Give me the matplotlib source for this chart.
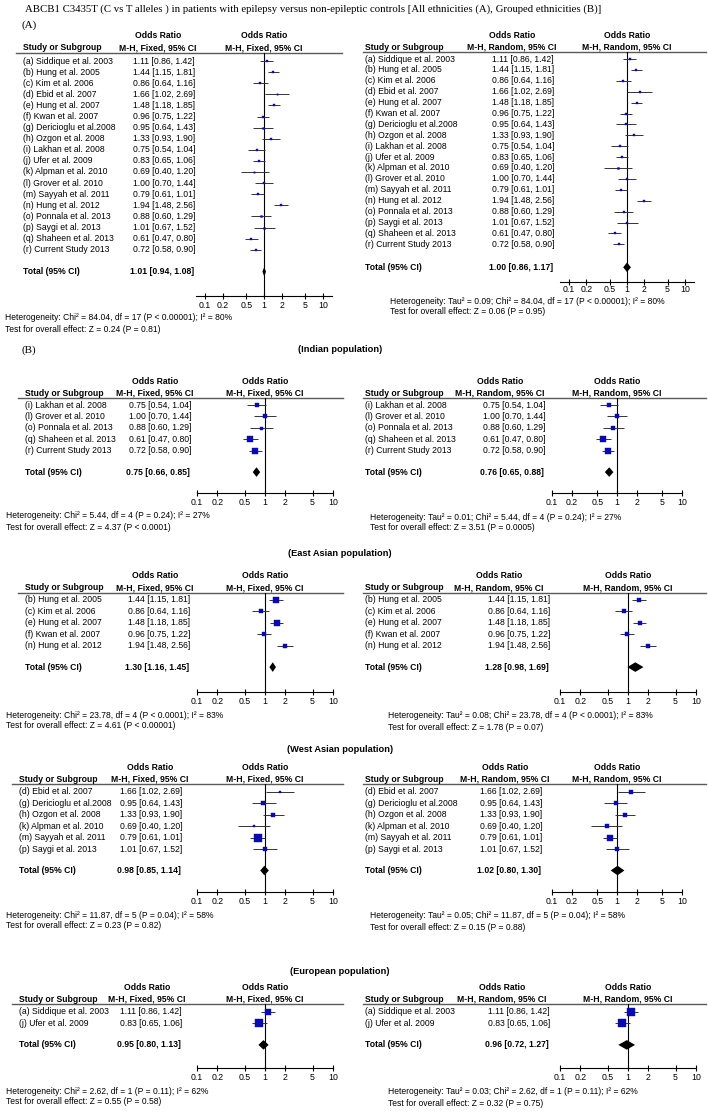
import matplotlib
matplotlib.use("Agg")
import matplotlib.pyplot as plt
import numpy as np

W, H = 708, 1112
SANS = "Liberation Sans"
SERIF = "Liberation Serif"
BLUE = "#0a0ab4"

# ---------------- data ----------------
studies = ["(a) Siddique et al. 2003", "(b) Hung et al. 2005", "(c) Kim et al. 2006",
           "(d) Ebid et al. 2007", "(e) Hung et al. 2007", "(f) Kwan et al. 2007",
           "(g) Dericioglu et al.2008", "(h) Ozgon et al. 2008", "(i) Lakhan et al. 2008",
           "(j) Ufer et al. 2009", "(k) Alpman et al. 2010", "(l) Grover et al. 2010",
           "(m) Sayyah et al. 2011", "(n) Hung et al. 2012", "(o) Ponnala et al. 2013",
           "(p) Saygi et al. 2013", "(q) Shaheen et al. 2013", "(r) Current Study 2013"]
odds = [1.11, 1.44, 0.86, 1.66, 1.48, 0.96, 0.95, 1.33, 0.75, 0.83, 0.69, 1.00, 0.79, 1.94, 0.88, 1.01, 0.61, 0.72]
ci_lo = [0.86, 1.15, 0.64, 1.02, 1.18, 0.75, 0.64, 0.93, 0.54, 0.65, 0.40, 0.70, 0.61, 1.48, 0.60, 0.67, 0.47, 0.58]
ci_hi = [1.42, 1.81, 1.16, 2.69, 1.85, 1.22, 1.43, 1.90, 1.04, 1.06, 1.20, 1.44, 1.01, 2.56, 1.29, 1.52, 0.80, 0.90]

# subgroup membership (indices into studies)
idx_all = list(range(18))
idx_indian = [8, 11, 14, 16, 17]
idx_east = [1, 2, 4, 5, 13]
idx_west = [3, 6, 7, 10, 12, 15]
idx_euro = [0, 9]

# approximate weights (%) read from square sizes
w_all_fixed = [6.5, 8.0, 5.5, 1.8, 7.5, 7.0, 3.5, 4.0, 4.5, 7.0, 2.0, 4.0, 8.0, 5.0, 3.5, 3.5, 6.0, 8.5]
w_all_rand = [6.0, 6.3, 5.6, 4.0, 6.3, 6.2, 5.0, 5.2, 5.5, 6.0, 3.8, 5.2, 6.3, 5.6, 5.0, 5.0, 5.8, 6.4]
w_indian_fixed = [14, 12, 9, 28, 37]
w_indian_rand = [15, 12, 10, 27, 36]
w_east_fixed = [26, 15, 27, 21, 11]
w_east_rand = [21, 18, 21, 20, 19]
w_west_fixed = [5, 11, 12, 7, 52, 12]
w_west_rand = [11, 16, 17, 12, 27, 17]
w_euro_fixed = [45, 55]
w_euro_rand = [50, 50]

# pooled estimates (OR, lo, hi)
tot_all_fixed = (1.01, 0.94, 1.08)
tot_all_rand = (1.00, 0.86, 1.17)
tot_indian_fixed = (0.75, 0.66, 0.85)
tot_indian_rand = (0.76, 0.65, 0.88)
tot_east_fixed = (1.30, 1.16, 1.45)
tot_east_rand = (1.28, 0.98, 1.69)
tot_west_fixed = (0.98, 0.85, 1.14)
tot_west_rand = (1.02, 0.80, 1.30)
tot_euro_fixed = (0.95, 0.80, 1.13)
tot_euro_rand = (0.96, 0.72, 1.27)

het_all_fixed = ["Heterogeneity: Chi\u00b2 = 84.04, df = 17 (P < 0.00001); I\u00b2 = 80%",
                 "Test for overall effect: Z = 0.24 (P = 0.81)"]
het_all_rand = ["Heterogeneity: Tau\u00b2 = 0.09; Chi\u00b2 = 84.04, df = 17 (P < 0.00001); I\u00b2 = 80%",
                "Test for overall effect: Z = 0.06 (P = 0.95)"]
het_indian_fixed = ["Heterogeneity: Chi\u00b2 = 5.44, df = 4 (P = 0.24); I\u00b2 = 27%",
                    "Test for overall effect: Z = 4.37 (P < 0.0001)"]
het_indian_rand = ["Heterogeneity: Tau\u00b2 = 0.01; Chi\u00b2 = 5.44, df = 4 (P = 0.24); I\u00b2 = 27%",
                   "Test for overall effect: Z = 3.51 (P = 0.0005)"]
het_east_fixed = ["Heterogeneity: Chi\u00b2 = 23.78, df = 4 (P < 0.0001); I\u00b2 = 83%",
                  "Test for overall effect: Z = 4.61 (P < 0.00001)"]
het_east_rand = ["Heterogeneity: Tau\u00b2 = 0.08; Chi\u00b2 = 23.78, df = 4 (P < 0.0001); I\u00b2 = 83%",
                 "Test for overall effect: Z = 1.78 (P = 0.07)"]
het_west_fixed = ["Heterogeneity: Chi\u00b2 = 11.87, df = 5 (P = 0.04); I\u00b2 = 58%",
                  "Test for overall effect: Z = 0.23 (P = 0.82)"]
het_west_rand = ["Heterogeneity: Tau\u00b2 = 0.05; Chi\u00b2 = 11.87, df = 5 (P = 0.04); I\u00b2 = 58%",
                 "Test for overall effect: Z = 0.15 (P = 0.88)"]
het_euro_fixed = ["Heterogeneity: Chi\u00b2 = 2.62, df = 1 (P = 0.11); I\u00b2 = 62%",
                  "Test for overall effect: Z = 0.55 (P = 0.58)"]
het_euro_rand = ["Heterogeneity: Tau\u00b2 = 0.03; Chi\u00b2 = 2.62, df = 1 (P = 0.11); I\u00b2 = 62%",
                 "Test for overall effect: Z = 0.32 (P = 0.75)"]

tick_vals = [0.1, 0.2, 0.5, 1, 2, 5, 10]
tick_labs = ["0.1", "0.2", "0.5", "1", "2", "5", "10"]

fig = plt.figure(figsize=(W / 100, H / 100), dpi=100)
fig.patch.set_facecolor("white")
ov = fig.add_axes([0, 0, 1, 1])
ov.set_xlim(0, W)
ov.set_ylim(H, 0)
ov.axis("off")
FS = 6.2


def txt(x, y, s, **kw):
    kw.setdefault("fontsize", FS)
    kw.setdefault("family", SANS)
    kw.setdefault("va", "center")
    ov.text(x, y, s, **kw)


def forest(lay, idx, wts, tot, het, method):
    # header block
    txt(lay["or1"], lay["line"] - 17, "Odds Ratio", ha="center", weight="bold")
    txt(lay["or1"], lay["line"] - 5, "M-H, %s, 95%% CI" % method, ha="center", weight="bold")
    txt(lay["one"], lay["line"] - 17, "Odds Ratio", ha="center", weight="bold")
    txt(lay["one"], lay["line"] - 5, "M-H, %s, 95%% CI" % method, ha="center", weight="bold")
    txt(lay["study"], lay["line"] - 5, "Study or Subgroup", ha="left", weight="bold")
    ov.plot([lay["l0"], lay["l1"]], [lay["line"], lay["line"]], color="#5a5a5a", lw=1.0)

    ys = [lay["row0"] + k * lay["sp"] for k in range(len(idx))]
    y_tot = ys[-1] + lay["gap"]
    for y, i in zip(ys, idx):
        txt(lay["study"], y, studies[i], ha="left")
        txt(lay["val"], y, "%.2f [%.2f, %.2f]" % (odds[i], ci_lo[i], ci_hi[i]), ha="left")
    txt(lay["study"], y_tot, "Total (95% CI)", ha="left", weight="bold")
    txt(lay["val"] - 3, y_tot, "%.2f [%.2f, %.2f]" % tot, ha="left", weight="bold")
    txt(lay["het"], lay["axis"] + lay["hgap"], het[0], ha="left", fontsize=6.15)
    txt(lay["het"], lay["axis"] + lay["hgap"] + 11, het[1], ha="left", fontsize=6.15)

    # graph
    ext, dec = lay["ext"], lay["dec"]
    x0 = lay["one"] - ext * dec
    x1 = lay["one"] + ext * dec
    ax = fig.add_axes([x0 / W, 1 - lay["axis"] / H, (x1 - x0) / W, (lay["axis"] - lay["line"]) / H])
    ax.set_xscale("log")
    ax.set_xlim(10 ** -ext, 10 ** ext)
    ax.set_ylim(lay["axis"], lay["line"])
    ax.patch.set_alpha(0)
    for s in ["top", "left", "right"]:
        ax.spines[s].set_visible(False)
    ax.spines["bottom"].set_linewidth(0.8)
    ax.set_yticks([])
    ax.set_xticks(tick_vals)
    ax.set_xticklabels(tick_labs)
    ax.minorticks_off()
    ax.tick_params(axis="x", direction="inout", length=5, width=0.8, labelsize=6.3, pad=lay.get("pad", 1))
    for lb in ax.get_xticklabels():
        lb.set_family(SANS)
    ax.axvline(1, color="black", lw=0.8)
    for y, i, w in zip(ys, idx, wts):
        ax.hlines(y, ci_lo[i], ci_hi[i], color="#333333", lw=0.7)
        side = np.sqrt(w) * 1.0 * 0.72
        ax.plot(odds[i], y, marker="s", ms=side, color=BLUE, mec=BLUE, mew=0.3)
    est, lo, hi = tot
    hh = 4.8
    ax.fill([lo, est, hi, est], [y_tot, y_tot - hh, y_tot, y_tot + hh], color="black", lw=0)


# titles
ov.text(25, 9, "ABCB1 C3435T (C vs T alleles ) in patients with epilepsy versus non-epileptic controls "
        "[All ethnicities (A), Grouped ethnicities (B)]", family=SERIF, fontsize=7.72, va="center")
ov.text(22, 25, "(A)", family=SERIF, fontsize=8, va="center")
ov.text(22, 350, "(B)", family=SERIF, fontsize=8, va="center")
for y, s in [(350, "(Indian population)"), (554, "(East Asian population)"),
             (749, "(West Asian population)"), (971, "(European population)")]:
    txt(340, y, s, ha="center", weight="bold", fontsize=6.7)

# panel A
forest(dict(study=23, val=133, or1=158, one=264, dec=59, ext=1.16, l0=16, l1=342, line=53,
            row0=61, sp=11.1, gap=22, axis=296, hgap=22, het=5),
       idx_all, w_all_fixed, tot_all_fixed, het_all_fixed, "Fixed")
forest(dict(study=365, val=492, or1=512, one=627, dec=58, ext=1.16, l0=363, l1=706, line=52,
            row0=59, sp=10.9, gap=23, axis=282, hgap=19, het=390, pad=0),
       idx_all, w_all_rand, tot_all_rand, het_all_rand, "Random")

# panel B
subs = [
    (idx_indian, w_indian_fixed, tot_indian_fixed, het_indian_fixed,
     w_indian_rand, tot_indian_rand, het_indian_rand, 398, 405, 493, 617, 483, 500, 370, 25, 129, 155),
    (idx_east, w_east_fixed, tot_east_fixed, het_east_fixed,
     w_east_rand, tot_east_rand, het_east_rand, 593, 600, 692, 628, 488, 499, 388, 25, 128, 155),
    (idx_west, w_west_fixed, tot_west_fixed, het_west_fixed,
     w_west_rand, tot_west_rand, het_west_rand, 784, 792, 892, 617, 480, 505, 370, 19, 120, 150),
    (idx_euro, w_euro_fixed, tot_euro_fixed, het_euro_fixed,
     w_euro_rand, tot_euro_rand, het_euro_rand, 1004, 1012, 1068, 628, 488, 502, 388, 19, 120, 147),
]
for (idx, wf, tf, hf, wr, tr, hr, line, row0, axis, one_r, val_r, or1_r, het_r,
     st_l, val_l, or1_l) in subs:
    forest(dict(study=st_l, val=val_l, or1=or1_l, one=265, dec=68, ext=1.0, l0=st_l - 7, l1=343,
                line=line, row0=row0, sp=11.4, gap=21.5, axis=axis, hgap=23, het=6),
           idx, wf, tf, hf, "Fixed")
    forest(dict(study=365, val=val_r, or1=or1_r, one=one_r, dec=68 if one_r > 620 else 65, ext=1.0,
                l0=363, l1=706, line=line, row0=row0, sp=11.4, gap=21.5, axis=axis, hgap=24, het=het_r),
           idx, wr, tr, hr, "Random")

fig.savefig("out.png", dpi=100, facecolor="white")
